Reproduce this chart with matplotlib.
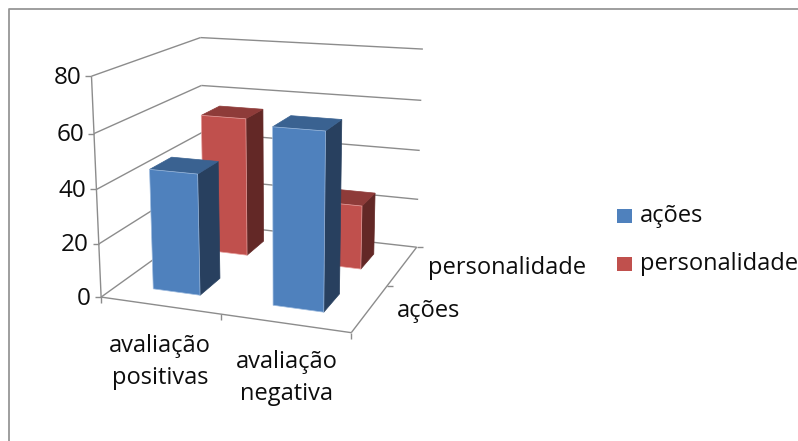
import numpy as np
import matplotlib
matplotlib.use('Agg')
import matplotlib.pyplot as plt
from matplotlib.patches import Polygon, Rectangle

categorias = ['avaliação\npositivas', 'avaliação\nnegativa']
series = ['ações', 'personalidade']
valores_acoes = [45, 64]
valores_personalidade = [55, 25]
ticks_y = [0, 20, 40, 60, 80]
y_max = 80

cores = {
    'ações': ('#4F81BD', '#3A6291', '#28405F', '#9DBBDF'),
    'personalidade': ('#C0504D', '#8E3B39', '#632826', '#E8A09E'),
}
cinza = '#8C8C8C'
cor_texto = '#0D0D0D'

plt.rcParams['font.family'] = ['Open Sans', 'DejaVu Sans']

# cantos da caixa 3D (x, profundidade, valor) -> pixel
cantos = [
    ((0, 0, 0), (100, 296)), ((1, 0, 0), (352, 333)),
    ((1, 1, 0), (416, 247)), ((0, 1, 0), (205, 224)),
    ((0, 0, 1), (92, 77)), ((0, 1, 1), (200, 37)),
    ((1, 1, 1), (423, 49)),
]


def calcula_projecao(pares):
    linhas = []
    for (x, y, z), (u, v) in pares:
        p = [x, y, z, 1]
        linhas.append(p + [0, 0, 0, 0] + [-u * c for c in p])
        linhas.append([0, 0, 0, 0] + p + [-v * c for c in p])
    _, _, vt = np.linalg.svd(np.array(linhas, dtype=float))
    return vt[-1].reshape(3, 4)


P = calcula_projecao(cantos)


def proj(x, y, z):
    u, v, w = P @ np.array([x, y, z, 1.0])
    return u / w, v / w


fig = plt.figure(figsize=(7.98, 4.41), dpi=100)
ax = fig.add_axes([0, 0, 1, 1])
ax.set_xlim(0, 798)
ax.set_ylim(441, 0)
ax.axis('off')


def linha(a, b, lw=1.0):
    ax.plot([a[0], b[0]], [a[1], b[1]], color=cinza, lw=lw, solid_capstyle='butt', zorder=1)


# moldura
ax.plot([8.5, 8.5, 798], [441, 9, 9], color='#969696', lw=1.3, zorder=0)

# grades das paredes
for t in ticks_y:
    z = t / y_max
    a, b, c = proj(0, 0, z), proj(0, 1, z), proj(1, 1, z)
    linha(a, b)
    linha(b, c)
    linha((a[0] - 6, a[1]), a)
    ax.text(a[0] - 10, a[1] + 1.5, str(t), ha='right', va='center', fontsize=17.5, color=cor_texto)

# piso
linha(proj(0, 0, 0), proj(1, 0, 0))
linha(proj(1, 0, 0), proj(1, 1, 0))
linha(proj(0, 0, 0), proj(0, 0, 1))
for x in [0, 0.5, 1]:
    a = proj(x, 0, 0)
    linha(a, (a[0], a[1] + 6))
for y in [0.5, 1]:
    a = proj(1, y, 0)
    linha(a, (a[0] + 6, a[1]))


def barra(i, j, valor, nome):
    frente, topo, lado, brilho = cores[nome]
    x0, x1 = (i + 0.3) / 2, (i + 0.7) / 2
    y0, y1 = (j + 0.3) / 2, (j + 0.7) / 2
    z = valor / y_max
    zo = 5 - j + 0.1 * i
    faces = [
        ([(x1, y0, 0), (x1, y1, 0), (x1, y1, z), (x1, y0, z)], lado, lado),
        ([(x0, y0, z), (x1, y0, z), (x1, y1, z), (x0, y1, z)], topo, topo),
        ([(x0, y0, 0), (x1, y0, 0), (x1, y0, z), (x0, y0, z)], frente, brilho),
    ]
    for pts, cor, borda in faces:
        ax.add_patch(Polygon([proj(*p) for p in pts], closed=True, facecolor=cor,
                             edgecolor=borda, lw=0.5, zorder=zo))


for j, (nome, valores) in reversed(list(enumerate(zip(series, [valores_acoes, valores_personalidade])))):
    for i, v in enumerate(valores):
        barra(i, j, v, nome)

# rotulos
pos_cat = [(160, 362), (287, 378)]
for (u, v), texto in zip(pos_cat, categorias):
    ax.text(u, v, texto, ha='center', va='center', fontsize=17, color=cor_texto, linespacing=1.5)
ax.text(428, 268, series[1], ha='left', va='center', fontsize=17, color=cor_texto)
ax.text(397, 311, series[0], ha='left', va='center', fontsize=17, color=cor_texto)

# legenda
for nome, y_leg in zip(series, [216, 264]):
    ax.add_patch(Rectangle((617, y_leg - 7), 15, 14, facecolor=cores[nome][0], edgecolor='none'))
    ax.text(640, y_leg + 0.5, nome, ha='left', va='center', fontsize=17, color=cor_texto)

fig.savefig('out.png', dpi=100)
